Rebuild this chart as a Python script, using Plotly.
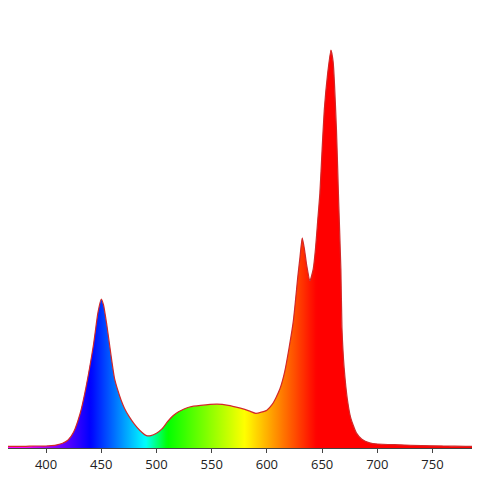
import plotly.graph_objects as go

# Wavelength (nm) and relative intensity
wavelength = [358, 370, 380, 390, 400, 405, 410, 415, 420, 425, 431, 436, 443, 447, 450, 452,
              455, 458, 460, 462, 465, 468, 471, 475, 480, 485, 491, 495, 500, 505, 510, 515, 520, 525,
              530, 540, 555, 565, 576, 580, 585, 590, 595, 600, 605, 608, 612, 616, 620,
              624, 628, 630, 632, 634, 636, 639, 642, 644, 646, 648, 650, 652, 655, 658, 660,
              663, 665, 667, 668, 670, 673, 676, 681, 686, 693, 700, 720, 740, 760, 780, 793]
intensity = [0.004, 0.004, 0.004, 0.005, 0.005, 0.006, 0.008, 0.012, 0.02, 0.04, 0.088, 0.15, 0.26, 0.34, 0.374, 0.36,
             0.31, 0.25, 0.21, 0.175, 0.145, 0.12, 0.1, 0.08, 0.06, 0.044, 0.031, 0.031, 0.037, 0.048, 0.066, 0.081, 0.091, 0.098,
             0.103, 0.107, 0.11, 0.107, 0.1, 0.097, 0.092, 0.087, 0.09, 0.095, 0.11, 0.125, 0.15, 0.19, 0.25,
             0.32, 0.43, 0.48, 0.528, 0.5, 0.46, 0.42, 0.45, 0.5, 0.57, 0.64, 0.75, 0.85, 0.94, 1.0, 0.97,
             0.8, 0.62, 0.45, 0.3, 0.2, 0.12, 0.075, 0.038, 0.022, 0.013, 0.01, 0.008, 0.006, 0.005, 0.004, 0.004]
tick_values = [400, 450, 500, 550, 600, 650, 700, 750]

X_MIN, X_MAX = 365.55, 793.0


def wl_to_rgb(w):
    if w < 440:
        r, g, b = max(0.0, -(w - 440) / 60), 0.0, 1.0
    elif w < 490:
        r, g, b = 0.0, (w - 440) / 50, 1.0
    elif w < 510:
        r, g, b = 0.0, 1.0, -(w - 510) / 20
    elif w < 580:
        r, g, b = (w - 510) / 70, 1.0, 0.0
    elif w < 645:
        r, g, b = 1.0, -(w - 645) / 65, 0.0
    else:
        r, g, b = 1.0, 0.0, 0.0
    return "rgb(%d,%d,%d)" % (round(r * 255), round(g * 255), round(b * 255))


G_MIN, G_MAX = 355.0, 800.0
stops = []
steps = 200
for i in range(steps + 1):
    wl = G_MIN + (G_MAX - G_MIN) * i / steps
    stops.append([i / steps, wl_to_rgb(wl)])

fig = go.Figure()
fig.add_trace(go.Scatter(
    x=wavelength, y=intensity, mode="lines",
    line=dict(color="rgb(210,40,40)", width=1.2, shape="spline", smoothing=0.5),
    fill="tozeroy",
    fillgradient=dict(type="horizontal", colorscale=stops, start=G_MIN, stop=G_MAX),
    hoverinfo="skip", showlegend=False, cliponaxis=True,
))

fig.update_layout(
    width=472, height=472,
    margin=dict(l=0, r=0, t=0, b=32),
    paper_bgcolor="white", plot_bgcolor="white",
    font=dict(family="Open Sans, DejaVu Sans, sans-serif", size=13, color="#222"),
    xaxis=dict(range=[X_MIN, X_MAX], tickvals=tick_values, ticks="outside", ticklen=4,
               tickcolor="#444", showline=True, linecolor="#444", linewidth=1,
               showgrid=False, zeroline=False),
    yaxis=dict(range=[0, 1.1055], visible=False, showgrid=False, zeroline=False),
)

fig.write_html("out.html")
